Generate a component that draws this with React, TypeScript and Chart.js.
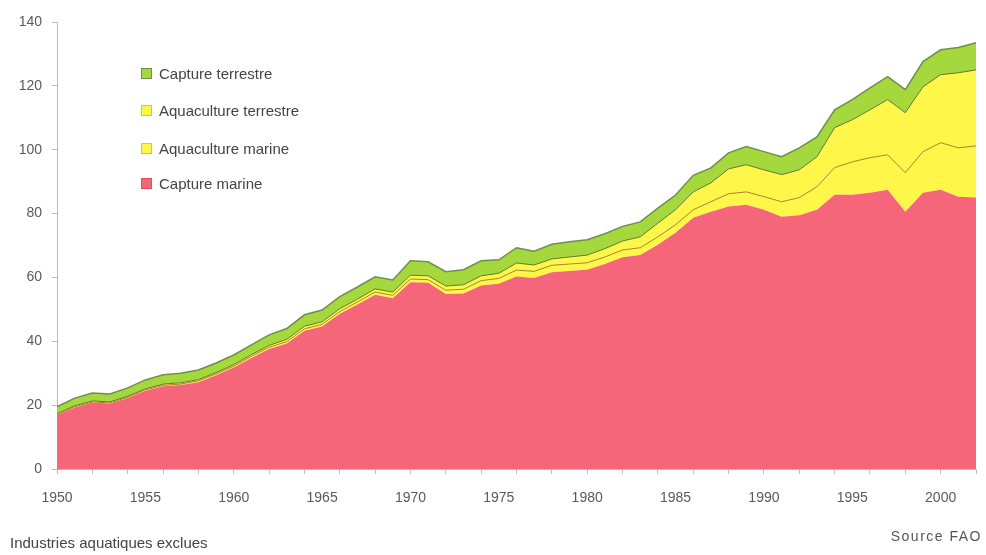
import { useEffect, useRef } from 'react';
import { Chart, registerables } from 'chart.js';

Chart.register(...registerables);

const years = [
  1950, 1951, 1952, 1953, 1954, 1955, 1956, 1957, 1958, 1959,
  1960, 1961, 1962, 1963, 1964, 1965, 1966, 1967, 1968, 1969,
  1970, 1971, 1972, 1973, 1974, 1975, 1976, 1977, 1978, 1979,
  1980, 1981, 1982, 1983, 1984, 1985, 1986, 1987, 1988, 1989,
  1990, 1991, 1992, 1993, 1994, 1995, 1996, 1997, 1998, 1999,
  2000, 2001, 2002,
];

const captureMarine = [
  16.9, 19.3, 20.8, 20.5, 22.2, 24.5, 25.9, 26.3, 27.2, 29.4,
  31.8, 34.8, 37.6, 39.3, 43.3, 44.6, 48.6, 51.5, 54.6, 53.5,
  58.5, 58.3, 54.8, 55.0, 57.5, 58.0, 60.3, 59.8, 61.6, 62.0,
  62.4, 64.2, 66.3, 67.0, 70.2, 74.0, 78.7, 80.6, 82.2, 82.8,
  81.2, 79.0, 79.5, 81.2, 85.9, 85.9, 86.5, 87.5, 80.6, 86.5,
  87.5, 85.3, 85.0,
];

const aquacultureMarine = [
  0.2, 0.2, 0.2, 0.2, 0.3, 0.3, 0.3, 0.3, 0.4, 0.4,
  0.4, 0.5, 0.5, 0.6, 0.6, 0.7, 0.7, 0.8, 0.8, 0.9,
  1.0, 1.0, 1.2, 1.3, 1.5, 1.7, 2.0, 2.1, 2.2, 2.2,
  2.2, 2.2, 2.3, 2.3, 2.5, 2.5, 2.5, 3.1, 4.0, 4.0,
  4.1, 4.7, 5.5, 7.2, 8.5, 10.3, 11.0, 10.9, 12.2, 12.9,
  14.7, 15.3, 16.2,
];

const aquacultureTerrestre = [
  0.2, 0.3, 0.3, 0.3, 0.3, 0.3, 0.4, 0.4, 0.4, 0.4,
  0.5, 0.5, 0.6, 0.7, 0.8, 0.8, 0.9, 0.9, 1.0, 1.0,
  1.2, 1.2, 1.3, 1.4, 1.5, 1.6, 2.2, 2.0, 2.0, 2.2,
  2.4, 2.6, 2.8, 3.4, 4.3, 4.7, 5.6, 5.9, 7.8, 8.5,
  8.4, 8.5, 8.7, 9.4, 12.5, 13.2, 15.0, 17.3, 18.8, 20.3,
  21.3, 23.5, 23.8,
];

const captureTerrestre = [
  2.2, 2.4, 2.5, 2.5, 2.6, 2.8, 2.9, 3.0, 3.0, 3.0,
  3.0, 3.1, 3.3, 3.4, 3.6, 3.7, 3.8, 3.8, 3.8, 3.8,
  4.5, 4.4, 4.5, 4.7, 4.7, 4.2, 4.8, 4.3, 4.6, 4.8,
  4.8, 4.7, 4.6, 4.7, 4.7, 4.6, 5.2, 4.7, 5.0, 5.7,
  5.7, 5.6, 6.9, 6.2, 5.6, 6.3, 6.9, 7.2, 7.2, 7.9,
  7.8, 7.9, 8.5,
];

const seriesLabels = ['Capture marine', 'Aquaculture marine', 'Aquaculture terrestre', 'Capture terrestre'];
const fillColors = ['#F5667A', '#FFF64A', '#FFF64A', '#A4D83C'];
const lineColors = ['#F5667A', '#A8842E', '#5E7A2E', '#6E8F4E'];
const yMax = 140;
const yStep = 20;

const FONT = "'Liberation Sans', Arial, sans-serif";

export default function App() {
  const ref = useRef<HTMLCanvasElement | null>(null);

  useEffect(() => {
    document.body.style.margin = '0';
    const canvas = ref.current;
    if (!canvas) return;
    const values = [captureMarine, aquacultureMarine, aquacultureTerrestre, captureTerrestre];
    const chart = new Chart(canvas, {
      type: 'line',
      data: {
        labels: years.map(String),
        datasets: values.map((d, i) => ({
          label: seriesLabels[i],
          data: d,
          backgroundColor: fillColors[i],
          borderColor: lineColors[i],
          borderWidth: i === 0 ? 0 : i === 3 ? 1.5 : 1,
          fill: i === 0 ? 'origin' : '-1',
          pointRadius: 0,
          tension: 0,
        })),
      },
      options: {
        animation: false,
        responsive: false,
        maintainAspectRatio: false,
        layout: { padding: { top: 22, right: 10, left: 0, bottom: 0 } },
        plugins: { legend: { display: false }, tooltip: { enabled: false } },
        scales: {
          x: {
            type: 'category',
            offset: false,
            grid: {
              display: true,
              drawOnChartArea: false,
              drawTicks: true,
              tickLength: 5,
              color: (ctx: any) => (ctx.index % 2 === 0 ? '#bbbbbb' : 'rgba(0,0,0,0)'),
            },
            border: { color: '#bbbbbb' },
            ticks: {
              autoSkip: false,
              maxRotation: 0,
              padding: 16,
              color: '#5a5a5a',
              font: { family: FONT, size: 14 },
              callback: (_v: any, i: number) => (years[i] % 5 === 0 ? String(years[i]) : ''),
            },
            afterFit: (s: any) => {
              s.height = 86;
              s.paddingRight = 0;
              s.paddingLeft = 0;
            },
          },
          y: {
            stacked: true,
            min: 0,
            max: yMax,
            ticks: {
              stepSize: yStep,
              padding: 10,
              color: '#5a5a5a',
              font: { family: FONT, size: 14 },
            },
            grid: { drawOnChartArea: false, tickLength: 5, color: '#bbbbbb' },
            border: { color: '#bbbbbb' },
            afterFit: (s: any) => {
              s.width = 57;
            },
          },
        },
      },
    });
    return () => chart.destroy();
  }, []);

  const legendOrder = [3, 2, 1, 0];
  const legendTops = [73, 110, 148, 183];

  return (
    <div style={{ position: 'relative', width: 986, height: 555, background: '#fff', fontFamily: FONT }}>
      <canvas ref={ref} width={986} height={555} style={{ position: 'absolute', left: 0, top: 0 }} />
      {legendOrder.map((idx, k) => (
        <div
          key={idx}
          style={{
            position: 'absolute',
            left: 141,
            top: legendTops[k] - 10,
            height: 20,
            display: 'flex',
            alignItems: 'center',
            fontSize: 15,
            color: '#444',
            whiteSpace: 'nowrap',
          }}
        >
          <span
            style={{
              display: 'inline-block',
              width: 9,
              height: 9,
              background: fillColors[idx],
              border: '1px solid ' + (idx === 3 ? '#6E8F4E' : idx === 0 ? '#d9505c' : '#e0c040'),
              marginRight: 7,
            }}
          />
          {seriesLabels[idx]}
        </div>
      ))}
      <div style={{ position: 'absolute', left: 10, top: 534, fontSize: 15, color: '#444', whiteSpace: 'nowrap' }}>
        Industries aquatiques exclues
      </div>
      <div
        style={{
          position: 'absolute',
          right: 4,
          top: 528,
          fontSize: 14,
          color: '#555',
          letterSpacing: 1.5,
          whiteSpace: 'nowrap',
        }}
      >
        Source FAO
      </div>
    </div>
  );
}
